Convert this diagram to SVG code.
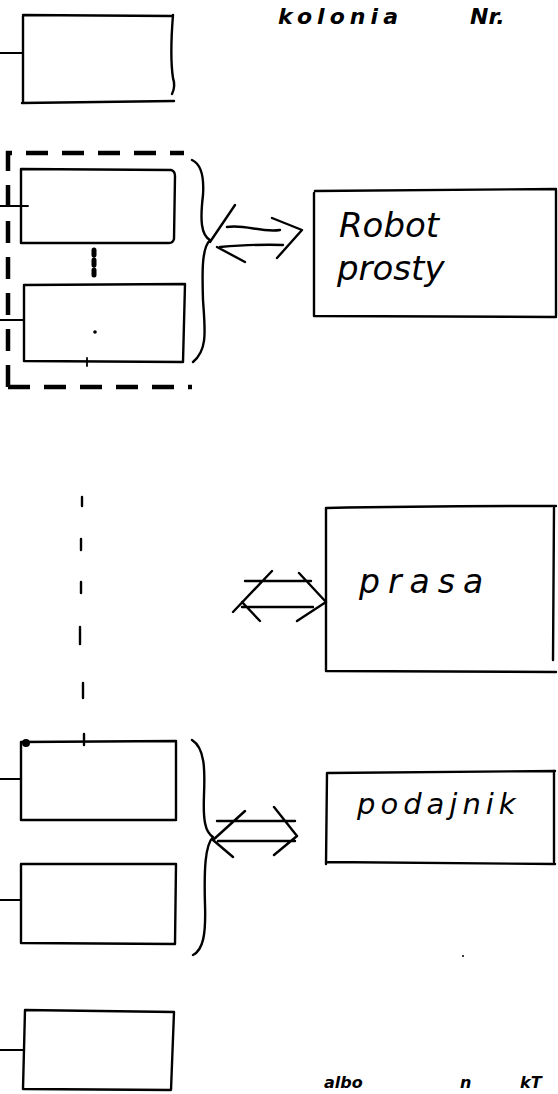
<svg xmlns="http://www.w3.org/2000/svg" width="558" height="1094" viewBox="0 0 558 1094">
<style>
.ln{fill:none;stroke:#000;stroke-width:2.4;stroke-linecap:round;stroke-linejoin:round}
.thin{fill:none;stroke:#000;stroke-width:1.8;stroke-linecap:round}
.dash{fill:none;stroke:#000;stroke-width:4.5;stroke-dasharray:22 14}
.hw{font-family:"DejaVu Sans",sans-serif;font-style:oblique;fill:#000}
</style>
<rect width="558" height="1094" fill="#fff"/>
<g id="header"><text class="hw" y="24" font-size="22" font-weight="bold"><tspan x="278" textLength="120" lengthAdjust="spacing">kolonia</tspan><tspan x="470">Nr.</tspan></text></g>
<g id="box1">
<path class="ln" d="M23,15 L172,16 M173,15 C171,40 171,65 173,78 C175,84 174,90 172,94 M23,16 L23,103 M22,103 L174,101"/>
<path class="thin" d="M0,53 L23,53"/>
</g>
<g id="group-dashed">
<path class="dash" d="M8,387 L8,153 L184,153 M8,387 L192,387"/>
<g id="box2"><path class="ln" d="M21,169 L171,170 Q175,171 175,176 L174,239 Q173,243 169,243 L21,243 Z"/><path class="thin" d="M0,206 L28,206"/></g>
<path d="M94,250 L94,276" stroke="#000" stroke-width="5" stroke-dasharray="5 5" stroke-linecap="round"/>
<g id="box3"><path class="ln" d="M24,285 L185,284 L183,362 L24,361 Z"/><path class="thin" d="M0,320 L24,320 M87,358 L87,366"/><circle cx="95" cy="332" r="1.8"/></g>
</g>
<g id="robot">
<path class="ln" d="M315,191 L556,189 M314,193 L314,316 M556,190 L556,316 M314,316 L556,317"/>
<text class="hw" x="339" y="237" font-size="34">Robot</text>
<text class="hw" x="337" y="280" font-size="34">prosty</text>
</g>
<g id="prasa">
<path class="ln" d="M327,508 C420,506 500,506 556,506 M326,508 L326,671 M326,671 L556,672 M554,508 L553,660"/>
<text class="hw" x="359" y="593" font-size="33" letter-spacing="8">prasa</text>
</g>
<g id="box4"><path class="ln" d="M21,742 L176,741 L176,820 L21,820 Z"/><path class="thin" d="M0,779 L21,779"/><circle cx="26" cy="743" r="4"/></g>
<g id="box5"><path class="ln" d="M21,864 L176,864 L175,944 L21,943 Z"/><path class="thin" d="M0,900 L21,900"/></g>
<g id="podajnik">
<path class="ln" d="M328,773 L555,771 M327,773 L326,864 M326,862 L555,864 M554,771 L554,862"/>
<text class="hw" x="357" y="814" font-size="29" letter-spacing="5">podajnik</text>
</g>
<g id="box6"><path class="ln" d="M25,1010 L174,1012 L171,1090 L23,1089 Z"/><path class="thin" d="M0,1050 L23,1050"/></g>
<g id="footer"><text class="hw" y="1088" font-size="16" font-weight="bold"><tspan x="324">albo</tspan><tspan x="460">n</tspan><tspan x="520">kT</tspan></text></g>
<g id="connectors">
<path class="ln" d="M192,160 C203,165 204,180 203,195 C200,220 201,235 210,240 C202,248 202,270 203,300 C205,330 208,350 193,362"/>
<path class="ln" d="M235,205 L210,242 M217,247 L245,262 M227,227 C245,224 262,233 280,230 M220,247 C245,245 262,244 283,245 M272,218 L302,230 L277,258"/>
<path class="ln" d="M82,497 L82,506 M81,539 L81,550 M81,582 L81,593 M80,627 L80,644 M83,683 L83,698 M84,734 L84,745"/>
<path class="ln" d="M272,571 L233,612 M245,581 L311,581 M242,607 L313,607 M242,602 L260,621 M299,573 L326,602 L297,621"/>
<path class="ln" d="M192,740 C205,748 205,770 204,795 C203,820 205,832 213,837 C205,845 204,870 205,905 C206,935 203,950 193,955"/>
<path class="ln" d="M245,811 L213,840 L233,857 M217,821 L295,821 M218,841 L295,841 M274,807 L297,836 L274,855"/>
<circle cx="463" cy="956" r="1"/>
</g>
</svg>
